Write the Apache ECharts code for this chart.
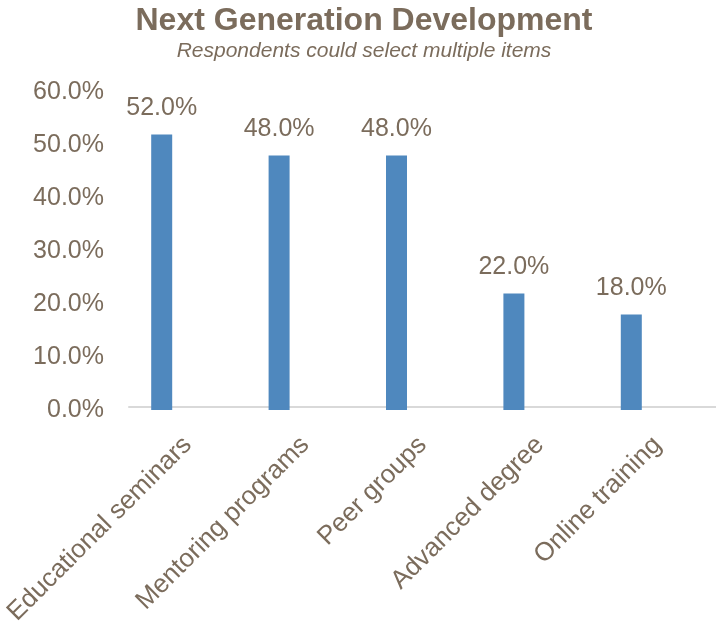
<!DOCTYPE html>
<html>
<head>
<meta charset="utf-8">
<script src="https://cdn.jsdelivr.net/npm/echarts@6/dist/echarts.min.js"></script>
<style>
  html, body { margin: 0; padding: 0; background: #fff; }
  #chart { width: 716px; height: 628px; }
</style>
</head>
<body>
<div id="chart"></div>
<script>
// Survey: next generation development options (multiple selections allowed)
const categories = ['Educational seminars', 'Mentoring programs', 'Peer groups', 'Advanced degree', 'Online training'];
const shares = [52.0, 48.0, 48.0, 22.0, 18.0];
const yTicks = { min: 0, max: 60, interval: 10 };

const textColor = '#7b6c5c';
const font = '"Liberation Sans", Arial, sans-serif';

const chart = echarts.init(document.getElementById('chart'), null, { renderer: 'canvas' });

chart.setOption({
  animation: false,
  backgroundColor: '#ffffff',
  title: {
    text: 'Next Generation Development',
    subtext: 'Respondents could select multiple items',
    left: 364,
    top: 5,
    padding: 0,
    textAlign: 'center',
    itemGap: 4,
    textStyle: { color: textColor, fontFamily: font, fontSize: 32, fontWeight: 'bold' },
    subtextStyle: { color: textColor, fontFamily: font, fontSize: 21, fontStyle: 'italic' }
  },
  // grid 0 holds the bars, grid 1 carries the category axis line and labels
  grid: [
    { left: 103, right: 26, top: 92, bottom: 218, containLabel: false },
    { left: 129, right: 0, top: 92, bottom: 218, containLabel: false }
  ],
  xAxis: [
    {
      type: 'category',
      gridIndex: 0,
      data: categories,
      axisLine: { show: false },
      axisTick: { show: false },
      axisLabel: { show: false }
    },
    {
      type: 'category',
      gridIndex: 1,
      data: categories,
      axisLine: { show: true, lineStyle: { color: '#d9d9d9', width: 2 } },
      axisTick: { show: false },
      axisLabel: {
        interval: 0,
        rotate: 45,
        margin: 34,
        color: textColor,
        fontFamily: font,
        fontSize: 26
      }
    }
  ],
  yAxis: [
    {
      type: 'value',
      gridIndex: 0,
      min: yTicks.min,
      max: yTicks.max,
      interval: yTicks.interval,
      axisLine: { show: false },
      axisTick: { show: false },
      splitLine: { show: false },
      axisLabel: {
        margin: -1,
        color: textColor,
        fontFamily: font,
        fontSize: 25,
        formatter: v => v.toFixed(1) + '%'
      }
    },
    {
      type: 'value',
      gridIndex: 1,
      min: yTicks.min,
      max: yTicks.max,
      show: false
    }
  ],
  series: [
    {
      type: 'bar',
      xAxisIndex: 0,
      yAxisIndex: 0,
      data: shares,
      barWidth: 21,
      itemStyle: { color: '#4f88be' },
      label: {
        show: true,
        position: 'top',
        distance: 14,
        color: textColor,
        fontFamily: font,
        fontSize: 25,
        formatter: p => p.value.toFixed(1) + '%'
      }
    }
  ]
});
</script>
</body>
</html>
